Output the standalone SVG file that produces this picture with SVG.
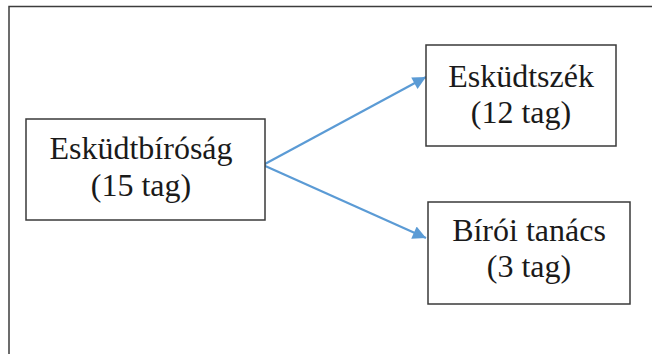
<svg xmlns="http://www.w3.org/2000/svg" width="652" height="354" viewBox="0 0 652 354">
<style>
.box{fill:#fff;stroke:#3a3a3a;stroke-width:1.5}
.t{font-family:"Liberation Serif","Times New Roman",serif;font-size:32px;fill:#1a1a1a;text-anchor:middle}
.c{stroke:#5b9bd5;stroke-width:2.2;fill:none}
</style>
<defs>
<marker id="ah" viewBox="0 0 10 10" refX="10" refY="5" markerWidth="7" markerHeight="6" markerUnits="strokeWidth" orient="auto">
<path d="M0,0 L10,5 L0,10 z" fill="#5b9bd5"/>
</marker>
</defs>
<rect width="652" height="354" fill="#fff"/>
<path d="M9,360 V6.5 H660" fill="none" stroke="#3c3c3c" stroke-width="1.5"/>
<g id="connectors">
<line class="c" x1="263" y1="165" x2="426" y2="77" marker-end="url(#ah)"/>
<line class="c" x1="263" y1="165" x2="426" y2="238" marker-end="url(#ah)"/>
</g>
<g id="eskudtbirosag">
<rect class="box" x="26" y="119" width="239" height="101"/>
<text class="t" x="141" y="158.5">Esküdtbíróság</text>
<text class="t" x="141" y="196">(15 tag)</text>
</g>
<g id="eskudtszek">
<rect class="box" x="426" y="45" width="190" height="101"/>
<text class="t" x="521" y="86.5">Esküdtszék</text>
<text class="t" x="521" y="122.5">(12 tag)</text>
</g>
<g id="biroi-tanacs">
<rect class="box" x="428" y="202" width="202" height="102"/>
<text class="t" x="529" y="240.5">Bírói tanács</text>
<text class="t" x="529" y="276.5">(3 tag)</text>
</g>
</svg>
